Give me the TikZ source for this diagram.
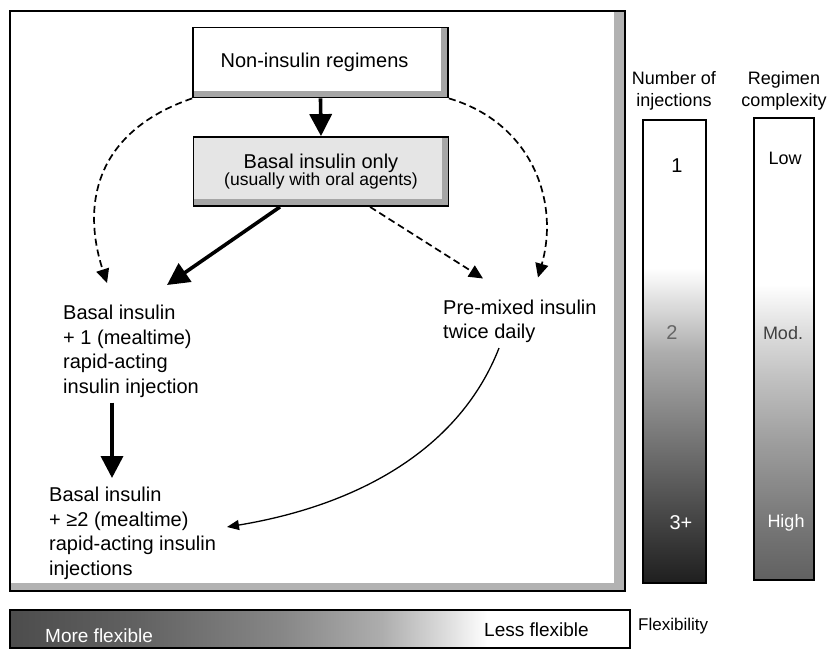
\documentclass[tikz,border=0pt]{standalone}
\usepackage{fontspec}
\setmainfont{Liberation Sans}
\usetikzlibrary{arrows.meta,calc}

% grey ramps for the three scale bars
\pgfdeclareverticalshading{injshade}{100bp}{color(0bp)=(black!88); color(25bp)=(black!88); color(31bp)=(black!75); color(40bp)=(black!55); color(50bp)=(black!32); color(55bp)=(black!14); color(59bp)=(white); color(100bp)=(white)}
\pgfdeclareverticalshading{cplxshade}{100bp}{color(0bp)=(black!62); color(25bp)=(black!62); color(32bp)=(black!52); color(40bp)=(black!38); color(47bp)=(black!24); color(52bp)=(black!13); color(57bp)=(white); color(100bp)=(white)}
\pgfdeclarehorizontalshading{flexshade}{100bp}{color(0bp)=(black!70); color(25bp)=(black!70); color(35bp)=(black!62); color(47bp)=(black!47); color(55bp)=(black!32); color(60bp)=(black!14); color(63.5bp)=(white); color(100bp)=(white)}

\tikzset{
  maintext/.style={font=\fontsize{20}{24.5}\selectfont, inner sep=0pt},
  sidetext/.style={font=\fontsize{18}{22}\selectfont, inner sep=0pt, align=center},
  textblock/.style={maintext, align=left, anchor=north west},
  stagebox/.style={draw, line width=1.8pt, minimum width=255pt, minimum height=70pt,
    inner sep=0pt, align=center,
    path picture={
      \fill[black!35] ([xshift=-7pt]path picture bounding box.north east) rectangle (path picture bounding box.south east);
      \fill[black!35] ([yshift=7pt]path picture bounding box.south west) rectangle (path picture bounding box.south east);
    }},
  solidarrow/.style={line width=3.6pt, -{Triangle[length=22pt,width=22pt]}},
  dasharrow/.style={line width=1.7pt, dash pattern=on 7pt off 4pt, -{Triangle[length=14pt,width=13pt]}},
  thinarrow/.style={line width=1.3pt, -{Triangle[length=12pt,width=10pt]}},
  barframe/.style={draw, line width=1.2pt},
}

\begin{document}
\begin{tikzpicture}[x=1pt,y=-1pt]
\useasboundingbox (0,0) rectangle (827,664);

% main frame with its shadowed right and bottom edges
\fill[black!30] (614,11) rectangle (625,591);
\fill[black!30] (10,583) rectangle (625,591);
\draw[line width=1.8pt] (10,11) rectangle (625,591);

% regimen boxes
\node[stagebox, maintext] (b1) at (320.5,62.5) {\raisebox{4pt}{Non-insulin regimens}\hspace*{12pt}};
\node[stagebox, fill=black!10, minimum height=69pt] (b2) at (321,171.5)
  {{\fontsize{20}{23}\selectfont Basal insulin only}\\{\fontsize{17.5}{21}\selectfont (usually with oral agents)}};

% free-text regimens
\node[textblock] (bb1) at (63,305) {Basal insulin\\+ 1 (mealtime)\\rapid-acting\\insulin injection};
\node[textblock] (bb2) at (49,487) {Basal insulin\\+ ≥2 (mealtime)\\rapid-acting insulin\\injections};
\node[textblock] (pm) at (443,299.5) {Pre-mixed insulin\\twice daily};

% transitions
\draw[solidarrow] (b1.south) -- (b2.north);
\draw[solidarrow] ([xshift=-41pt]b2.south) -- ([shift={(104,-20)}]bb1.north west);
\draw[dasharrow] ([xshift=49pt]b2.south) -- ([shift={(40,-21)}]pm.north west);
\draw[dasharrow] (b1.south west) .. controls +(-93,32) and +(-27,-83) .. ([shift={(44,-22)}]bb1.north west);
\draw[dasharrow] (b1.south east) .. controls +(82,24) and +(22,-77) .. ([shift={(95,-22)}]pm.north west);
\draw[solidarrow] ([shift={(49,5)}]bb1.south west) -- ([shift={(63,-9)}]bb2.north west);
\draw[thinarrow] ([shift={(56,5)}]pm.south west) .. controls +(-39,100) and +(133,-22) .. ([shift={(178,40)}]bb2.north west);

% number of injections bar
\node[sidetext] (hinj) at (674,91) {Number of\\injections};
\shade[shading=injshade] (643,120) rectangle (706,583);
\draw[barframe] (643,120) rectangle (706,583);
\node[maintext] (inj1) at (677,166) {1};
\node[maintext, text=black!60] (inj2) at (672,333) {2};
\node[maintext, text=white] (inj3) at (681,523) {3+};

% regimen complexity bar
\node[sidetext] (hcpx) at (784,91) {Regimen\\complexity};
\shade[shading=cplxshade] (754,118) rectangle (814,580);
\draw[barframe] (754,118) rectangle (814,580);
\node[sidetext] (cpxlow) at (785,158) {Low};
\node[sidetext, text=black!75] (cpxmod) at (783,333) {Mod.};
\node[sidetext, text=white] (cpxhigh) at (786,523) {High};

% flexibility bar
\shade[shading=flexshade] (10,610) rectangle (630,648);
\draw[barframe] (10,610) rectangle (630,648);
\node[sidetext, anchor=west, text=white, font=\fontsize{19}{22}\selectfont] (flexmore) at (45,636) {More flexible};
\node[sidetext, anchor=west, font=\fontsize{19}{22}\selectfont] (flexless) at (484,630) {Less flexible};
\node[sidetext, anchor=west, font=\fontsize{17}{20}\selectfont] (hflex) at (638,626) {Flexibility};
\end{tikzpicture}
\end{document}
